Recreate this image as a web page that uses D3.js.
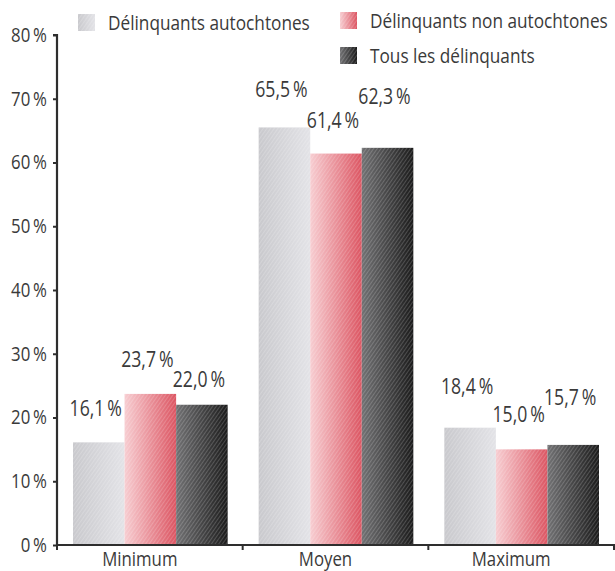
<!DOCTYPE html>
<html>
<head>
<meta charset="utf-8">
<script src="https://cdn.jsdelivr.net/npm/d3@7"></script>
<style>
  body { margin: 0; background: #fff; }
  svg text { font-family: "Open Sans", sans-serif; font-weight: 400; fill: #3a3a3a; }
</style>
</head>
<body>
<svg id="chart" width="615" height="571"></svg>
<script>
// data
const categories = ['Minimum', 'Moyen', 'Maximum'];
const series = ['Délinquants autochtones', 'Délinquants non autochtones', 'Tous les délinquants'];
const values = [
  [16.1, 23.7, 22.0],
  [65.5, 61.4, 62.3],
  [18.4, 15.0, 15.7],
];
const yTicks = [0, 10, 20, 30, 40, 50, 60, 70, 80];

// layout bits (label lift above each bar, hand placed in the original)
const labelLift = [[26, 27, 18], [30, 26, 44], [34, 27, 40]];
const gradStops = [
  ['#c9c9cd', '#e3e3e7'],
  ['#f7cdd1', '#dc5562'],
  ['#717173', '#1b1b1b'],
];
const squeeze = 0.84; // the original face is a narrow sans

const svg = d3.select('#chart');
const fmt = (v) => d3.format('.1f')(v).replace('.', ',') + '\u2009%';

const x0 = d3.scaleBand().domain(categories).range([57, 614]);
const x1 = d3.scaleBand().domain(series).range([16, x0.bandwidth() - 15]);
const y = d3.scaleLinear().domain([0, 80]).range([545, 35]);

// gradients + a fine halftone-ish texture
const defs = svg.append('defs');
gradStops.forEach((s, i) => {
  const g = defs.append('linearGradient').attr('id', `grad${i}`);
  g.append('stop').attr('offset', '0%').attr('stop-color', s[0]);
  g.append('stop').attr('offset', '100%').attr('stop-color', s[1]);
});
const pat = defs.append('pattern')
  .attr('id', 'tex')
  .attr('width', 3).attr('height', 3)
  .attr('patternUnits', 'userSpaceOnUse')
  .attr('patternTransform', 'rotate(35)');
pat.append('rect').attr('width', 1).attr('height', 3).attr('fill', '#fff').attr('opacity', 0.18);

// bars
const groups = svg.append('g').selectAll('g')
  .data(categories)
  .join('g')
  .attr('transform', (d) => `translate(${x0(d)},0)`);

groups.each(function (cat, ci) {
  const g = d3.select(this);
  const rows = series.map((s, si) => ({ s, si, v: values[ci][si] }));
  g.selectAll('rect.bar')
    .data(rows)
    .join('rect')
    .attr('class', 'bar')
    .attr('x', (d) => x1(d.s))
    .attr('width', x1.bandwidth())
    .attr('y', (d) => y(d.v))
    .attr('height', (d) => y(0) - y(d.v))
    .attr('fill', (d) => `url(#grad${d.si})`);
  g.selectAll('rect.tex')
    .data(rows)
    .join('rect')
    .attr('class', 'tex')
    .attr('x', (d) => x1(d.s))
    .attr('width', x1.bandwidth())
    .attr('y', (d) => y(d.v))
    .attr('height', (d) => y(0) - y(d.v))
    .attr('fill', 'url(#tex)');
  g.selectAll('text.val')
    .data(rows)
    .join('text')
    .attr('class', 'val')
    .attr('x', (d) => x1(d.s) + x1.bandwidth() / 2 - 3)
    .attr('y', (d) => y(d.v) - labelLift[ci][d.si])
    .attr('text-anchor', 'middle')
    .attr('font-size', 21)
    .text((d) => fmt(d.v));
});

// y axis
const yAxis = svg.append('g')
  .attr('transform', 'translate(57,0)')
  .call(d3.axisLeft(y).tickValues(yTicks).tickSize(4).tickPadding(6)
    .tickFormat((d) => d + '\u2009%'));
yAxis.select('.domain').attr('stroke', '#2e2e2e').attr('stroke-width', 2.2).attr('d', 'M-4,35H0V546');
yAxis.selectAll('.tick line').attr('stroke', '#2e2e2e').attr('stroke-width', 2);
yAxis.selectAll('.tick text').attr('font-size', 20).attr('font-family', null).attr('fill', '#3a3a3a');

// x axis: ticks at band edges, labels at band centres
const edges = x0.domain().map((d) => x0(d)).concat([x0.range()[1]]);
const xAxis = svg.append('g').attr('transform', `translate(0,${y(0)})`);
xAxis.append('line')
  .attr('x1', x0.range()[0] - 1).attr('x2', x0.range()[1] + 1)
  .attr('stroke', '#2e2e2e').attr('stroke-width', 2.2);
xAxis.selectAll('line.tk')
  .data(edges)
  .join('line')
  .attr('class', 'tk')
  .attr('x1', (d) => d).attr('x2', (d) => d)
  .attr('y1', 0).attr('y2', 5)
  .attr('stroke', '#2e2e2e').attr('stroke-width', 2);
xAxis.selectAll('text')
  .data(categories)
  .join('text')
  .attr('x', (d) => x0(d) + x0.bandwidth() / 2 - 10)
  .attr('y', 21)
  .attr('text-anchor', 'middle')
  .attr('font-size', 20)
  .text((d) => d);

// legend
const legendPos = [[78, 14], [340, 12], [340, 47]];
const legend = svg.append('g').selectAll('g')
  .data(series)
  .join('g')
  .attr('transform', (d, i) => `translate(${legendPos[i][0]},${legendPos[i][1]})`);
legend.append('rect').attr('width', 17).attr('height', 17).attr('fill', (d, i) => `url(#grad${i})`);
legend.append('rect').attr('width', 17).attr('height', 17).attr('fill', 'url(#tex)');
legend.append('text')
  .attr('x', 30)
  .attr('y', 16)
  .attr('font-size', 20.5)
  .text((d) => d);

// narrow every label a bit
svg.selectAll('text').each(function () {
  const w = this.getComputedTextLength();
  d3.select(this).attr('textLength', w * squeeze).attr('lengthAdjust', 'spacingAndGlyphs');
});
</script>
</body>
</html>
